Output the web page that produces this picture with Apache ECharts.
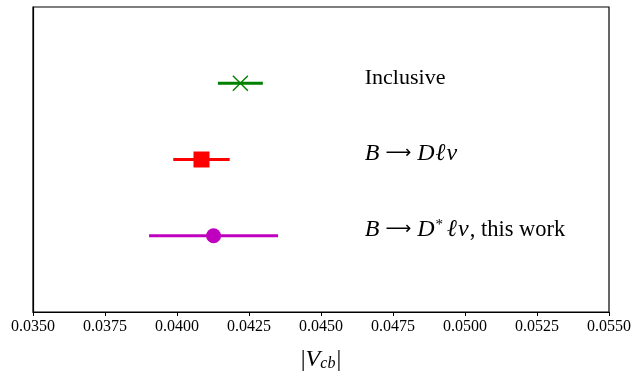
<!DOCTYPE html>
<html>
<head>
<meta charset="utf-8">
<script src="https://cdn.jsdelivr.net/npm/echarts@6/dist/echarts.min.js"></script>
<style>
  html, body { margin: 0; padding: 0; background: #fff; }
  #chart { width: 636px; height: 377px; }
</style>
</head>
<body>
<div id="chart"></div>
<script>
// |Vcb| determinations: central value and symmetric uncertainty
const categories = ['Inclusive', 'BDlnu', 'BDstarlnu'];
const rowIndex = [3, 2, 1];
const centralValues = [0.04220, 0.04085, 0.04127];
const uncertainties = [0.00078, 0.00098, 0.00224];
const colors = ['#008000', '#ff0000', '#bf00bf'];
const xTicks = { min: 0.035, max: 0.055, step: 0.0025 };

const serif = '"Liberation Serif", "DejaVu Serif", serif';
const labelX = 0.04652;

// rich-text labels for each row
const labelTexts = [
  'Inclusive',
  '{i|B}{arr|⟶}{i|D}{i|ℓ}{i|ν}',
  '{i|B}{arr|⟶}{i|D}{sup|*}{i|ℓ}{i|ν}{rm|, this work}'
];

const crossPath = 'path://M0,0L10,10M10,0L0,10';

const chart = echarts.init(document.getElementById('chart'));

const errorBars = categories.map((c, k) => ({
  value: [centralValues[k] - uncertainties[k], centralValues[k] + uncertainties[k], rowIndex[k]],
  itemStyle: { color: colors[k] }
}));

const option = {
  animation: false,
  backgroundColor: '#fff',
  grid: {
    left: 33, right: 27, top: 7, bottom: 63,
    show: true, borderColor: '#000', borderWidth: 1.2, backgroundColor: 'transparent'
  },
  xAxis: {
    type: 'value',
    min: xTicks.min, max: xTicks.max, interval: xTicks.step,
    name: '{bar||}{v|V}{sub|cb}{bar||}',
    nameLocation: 'middle',
    nameGap: 35,
    nameTextStyle: {
      rich: {
        bar: { fontFamily: serif, fontSize: 24, color: '#000' },
        v: { fontFamily: serif, fontStyle: 'italic', fontSize: 24, color: '#000' },
        sub: { fontFamily: serif, fontStyle: 'italic', fontSize: 16, color: '#000', verticalAlign: 'bottom', padding: [9, 1, 0, 0] }
      }
    },
    axisLine: { show: true, lineStyle: { color: '#000', width: 1.2 } },
    axisTick: { show: true, length: 4, lineStyle: { color: '#000', width: 1 } },
    axisLabel: {
      formatter: v => v.toFixed(4),
      fontFamily: serif, fontSize: 16, color: '#000', margin: 7
    },
    splitLine: { show: false }
  },
  yAxis: {
    type: 'value', min: 0, max: 4,
    axisLine: { show: true, lineStyle: { color: '#000', width: 1.2 } },
    axisTick: { show: false },
    axisLabel: { show: false },
    splitLine: { show: false }
  },
  series: [
    {
      type: 'custom',
      renderItem: (params, api) => {
        const a = api.coord([api.value(0), api.value(2)]);
        const b = api.coord([api.value(1), api.value(2)]);
        return {
          type: 'line',
          shape: { x1: a[0], y1: a[1], x2: b[0], y2: b[1] },
          style: { stroke: api.visual('color'), lineWidth: 3 }
        };
      },
      data: errorBars,
      z: 2
    },
    {
      type: 'scatter',
      data: [{ value: [centralValues[0], rowIndex[0]] }],
      symbol: crossPath,
      symbolSize: 15,
      itemStyle: { color: 'none', borderColor: colors[0], borderWidth: 1.4, opacity: 1 },
      z: 3
    },
    {
      type: 'scatter',
      data: [{ value: [centralValues[1], rowIndex[1]] }],
      symbol: 'rect',
      symbolSize: 16,
      itemStyle: { color: colors[1], opacity: 1 },
      z: 3
    },
    {
      type: 'scatter',
      data: [{ value: [centralValues[2], rowIndex[2]] }],
      symbol: 'circle',
      symbolSize: 15,
      itemStyle: { color: colors[2], opacity: 1 },
      z: 3
    },
    {
      type: 'custom',
      renderItem: (params, api) => {
        const p = api.coord([labelX, rowIndex[params.dataIndex]]);
        return {
          type: 'text',
          x: p[0], y: p[1] + 6,
          style: {
            text: labelTexts[params.dataIndex],
            fontFamily: serif, fontSize: 22, fill: '#000',
            verticalAlign: 'bottom', align: 'left',
            rich: {
              i: { fontFamily: serif, fontStyle: 'italic', fontSize: 24, padding: [0, 1, 0, 0] },
              arr: { fontFamily: '"DejaVu Sans"', fontSize: 18, padding: [0, 6, 0, 5] },
              sup: { fontFamily: serif, fontSize: 15, verticalAlign: 'top', padding: [0, 4, 8, 0] },
              rm: { fontFamily: serif, fontSize: 22.5 }
            }
          }
        };
      },
      data: categories.map((c, k) => [labelX, rowIndex[k]]),
      z: 4
    }
  ]
};

chart.setOption(option);
</script>
</body>
</html>
